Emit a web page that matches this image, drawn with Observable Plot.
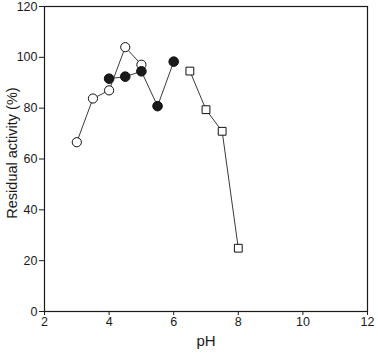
<!DOCTYPE html>
<html>
<head>
<meta charset="utf-8">
<script src="https://cdn.jsdelivr.net/npm/d3@7"></script>
<script src="https://cdn.jsdelivr.net/npm/@observablehq/plot@0.6"></script>
<style>
  html, body { margin: 0; padding: 0; background: #fff; }
  #chart svg { display: block; }
</style>
</head>
<body>
<div id="chart"></div>
<script>
// Series A: open circles
const phOpen = [3, 3.5, 4, 4.5, 5];
const actOpen = [66.6, 83.8, 87, 104, 97.1];
// Series B: filled circles
const phFilled = [4, 4.5, 5, 5.5, 6];
const actFilled = [91.6, 92.4, 94.5, 80.8, 98.3];
// Series C: open squares
const phSquare = [6.5, 7, 7.5, 8];
const actSquare = [94.6, 79.4, 70.9, 24.9];

const xTicks = [2, 4, 6, 8, 10, 12];
const yTicks = [0, 20, 40, 60, 80, 100, 120];
const xLabel = "pH";
const yLabel = "Residual activity (%)";

const rows = (xs, ys) => xs.map((x, i) => ({ x, y: ys[i] }));
const open = rows(phOpen, actOpen);
const filled = rows(phFilled, actFilled);
const squares = rows(phSquare, actSquare);

const lineStyle = { x: "x", y: "y", stroke: "#3a3a3a", strokeWidth: 1 };

const chart = Plot.plot({
  width: 378,
  height: 353,
  marginLeft: 44,
  marginRight: 11,
  marginTop: 6,
  marginBottom: 42,
  style: { fontFamily: "'Liberation Sans', Arial, Helvetica, sans-serif", fontSize: "12px", color: "#1a1a1a", background: "#fff" },
  x: { domain: [2, 12] },
  y: { domain: [0, 120] },
  marks: [
    Plot.frame({ stroke: "#1a1a1a", strokeWidth: 1.2 }),
    Plot.axisX({ ticks: xTicks, tickSize: 4, tickPadding: 2, label: null, fontSize: 12.5 }),
    Plot.axisY({ ticks: yTicks, tickSize: 5, tickPadding: 2, label: null, fontSize: 12.5 }),
    Plot.line(open, lineStyle),
    Plot.dot(open, { x: "x", y: "y", r: 4.6, fill: "#fff", stroke: "#111", strokeWidth: 1 }),
    Plot.line(filled, lineStyle),
    Plot.dot(filled, { x: "x", y: "y", r: 4.8, fill: "#1a1a1a", stroke: "#111", strokeWidth: 1 }),
    Plot.line(squares, lineStyle),
    Plot.dot(squares, { x: "x", y: "y", r: 4.4, symbol: "square", fill: "#fff", stroke: "#111", strokeWidth: 1 }),
    Plot.text([xLabel], { frameAnchor: "bottom", dy: 34, fontSize: 15, text: d => d }),
    Plot.text([yLabel], { frameAnchor: "left", textAnchor: "middle", dx: -32, dy: -6, rotate: -90, fontSize: 14.5, text: d => d })
  ]
});
document.getElementById("chart").appendChild(chart);
</script>
</body>
</html>
